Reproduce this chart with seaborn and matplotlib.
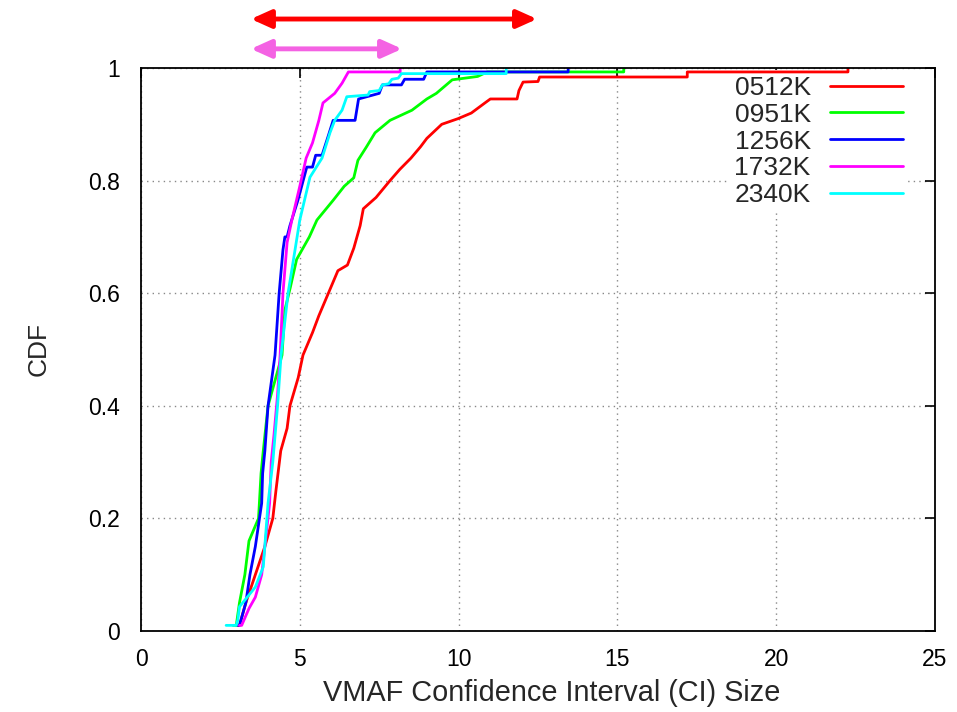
import matplotlib
matplotlib.use("Agg")
import matplotlib.pyplot as plt
import seaborn as sns
import pandas as pd

# ---- data (points along each CDF curve: x = CI size, y = cumulative fraction)
x_0512 = [3.0, 3.1, 3.3, 3.6, 3.9, 4.15, 4.25, 4.4, 4.6, 4.69, 4.95, 5.1, 5.4, 5.6, 5.9, 6.2,
          6.5, 6.7, 6.9, 7.0, 7.4, 7.84, 8.15, 8.5, 8.8, 9.0, 9.47, 9.98, 10.4, 10.83, 11.0,
          11.84, 11.9, 12.03, 12.5, 12.55, 17.2, 17.2, 22.26, 22.26]
y_0512 = [0.01, 0.01, 0.05, 0.10, 0.15, 0.20, 0.25, 0.32, 0.36, 0.40, 0.45, 0.49, 0.53, 0.56,
          0.60, 0.64, 0.65, 0.68, 0.72, 0.75, 0.77, 0.80, 0.82, 0.84, 0.86, 0.875, 0.90, 0.91,
          0.92, 0.938, 0.945, 0.945, 0.96, 0.975, 0.976, 0.984, 0.984, 0.993, 0.993, 1.0]

x_0951 = [2.9, 3.0, 3.1, 3.27, 3.4, 3.55, 3.7, 3.78, 3.85, 4.0, 4.44, 4.53, 4.7, 4.9, 5.1,
          5.3, 5.54, 6.05, 6.4, 6.7, 6.83, 7.1, 7.37, 7.84, 8.53, 9.0, 9.3, 9.8, 10.6, 10.9,
          15.2, 15.2]
y_0951 = [0.01, 0.01, 0.05, 0.10, 0.16, 0.18, 0.20, 0.28, 0.32, 0.40, 0.49, 0.57, 0.61, 0.66,
          0.68, 0.70, 0.73, 0.765, 0.79, 0.805, 0.836, 0.86, 0.885, 0.907, 0.925, 0.945, 0.955,
          0.979, 0.985, 0.993, 0.993, 1.0]

x_1256 = [3.05, 3.1, 3.3, 3.43, 3.6, 3.8, 3.83, 3.9, 4.0, 4.22, 4.35, 4.47, 4.53, 4.6, 4.69,
          4.94, 5.22, 5.4, 5.5, 5.7, 5.9, 6.05, 6.74, 6.85, 7.5, 7.6, 8.2, 8.3, 8.9, 9.0, 13.45,
          13.45]
y_1256 = [0.01, 0.01, 0.05, 0.10, 0.15, 0.227, 0.28, 0.32, 0.40, 0.49, 0.60, 0.677, 0.70, 0.70,
          0.72, 0.765, 0.824, 0.824, 0.845, 0.845, 0.88, 0.907, 0.907, 0.945, 0.955, 0.97, 0.97,
          0.98, 0.98, 0.993, 0.993, 1.0]

x_1732 = [3.1, 3.17, 3.4, 3.6, 3.8, 3.9, 4.05, 4.1, 4.19, 4.3, 4.38, 4.47, 4.6, 4.75, 5.0, 5.2,
          5.4, 5.6, 5.73, 6.1, 6.33, 6.53, 8.16, 8.16]
y_1732 = [0.01, 0.01, 0.04, 0.06, 0.10, 0.15, 0.227, 0.30, 0.35, 0.42, 0.49, 0.60, 0.69, 0.73,
          0.79, 0.84, 0.867, 0.907, 0.938, 0.955, 0.973, 0.993, 0.993, 1.0]

x_2340 = [2.68, 3.0, 3.05, 3.1, 3.6, 3.85, 4.0, 4.15, 4.3, 4.41, 4.63, 4.85, 5.0, 5.32, 5.7,
          5.95, 6.1, 6.33, 6.48, 7.15, 7.2, 7.5, 7.6, 7.8, 7.9, 8.1, 8.2, 11.5, 11.5]
y_2340 = [0.01, 0.01, 0.02, 0.043, 0.078, 0.114, 0.227, 0.30, 0.40, 0.49, 0.60, 0.677, 0.73,
          0.806, 0.84, 0.885, 0.907, 0.925, 0.949, 0.952, 0.958, 0.96, 0.97, 0.972, 0.98, 0.982,
          0.99, 0.99, 1.0]

series_names = ["0512K", "0951K", "1256K", "1732K", "2340K"]
series_x = [x_0512, x_0951, x_1256, x_1732, x_2340]
series_y = [y_0512, y_0951, y_1256, y_1732, y_2340]
colors = ["#ff0000", "#00ff00", "#0000ff", "#ff00ff", "#00ffff"]

x_ticks = [0, 5, 10, 15, 20, 25]
y_ticks = [0, 0.2, 0.4, 0.6, 0.8, 1.0]
y_tick_labels = ["0", "0.2", "0.4", "0.6", "0.8", "1"]

# range arrows above the plot (x extents in data units)
red_range = (3.46, 12.47)
pink_range = (3.46, 8.22)

rows = []
for name, xs, ys in zip(series_names, series_x, series_y):
    for i, (xv, yv) in enumerate(zip(xs, ys)):
        rows.append({"ci": xv, "cdf": yv, "series": name, "order": i})
df = pd.DataFrame(rows)

sns.set_theme(style="white")
plt.rcParams["font.family"] = ["Liberation Sans", "DejaVu Sans"]

fig = plt.figure(figsize=(9.57, 7.12), dpi=100)
ax = fig.add_axes([141 / 957, 1 - 631 / 712, (935 - 141) / 957, (631 - 68) / 712])

sns.lineplot(data=df, x="ci", y="cdf", hue="series", hue_order=series_names,
             palette=colors, estimator=None, sort=False, units="series",
             linewidth=2.0, ax=ax, legend=True)

ax.set_xlim(0, 25)
ax.set_ylim(0, 1)
ax.set_xticks(x_ticks)
ax.set_xticklabels([str(t) for t in x_ticks])
ax.set_yticks(y_ticks)
ax.set_yticklabels(y_tick_labels)
ax.tick_params(axis="both", which="both", direction="in", length=7, width=1.2,
               top=True, right=True, labelsize=16.5, colors="black")
ax.tick_params(axis="y", pad=15)
ax.tick_params(axis="x", pad=12)
ax.grid(True, linestyle=(0, (1, 3)), color="#888888", linewidth=1.0, zorder=0.5)
ax.set_axisbelow(True)
for s in ax.spines.values():
    s.set_color("black")
    s.set_linewidth(1.3)

ax.set_xlabel("VMAF Confidence Interval (CI) Size", fontsize=20.8, labelpad=8)
ax.xaxis.set_label_coords(0.517, -0.085)
ax.set_ylabel("CDF", fontsize=19, labelpad=27)

leg = ax.legend(loc="upper right", bbox_to_anchor=(0.983, 1.019), frameon=True,
                markerfirst=False, fontsize=19, handlelength=2.75, handletextpad=0.75,
                labelspacing=0.11, borderpad=0.2, title=None)
leg.get_frame().set_facecolor("white")
leg.get_frame().set_edgecolor("none")
leg.get_frame().set_alpha(1.0)
leg.set_zorder(1.5)
for t in leg.get_texts():
    t.set_ha("right")
for h in leg.get_lines():
    h.set_linewidth(2.0)

ax.annotate("", xy=(red_range[1], 1.087), xytext=(red_range[0], 1.087),
            xycoords=("data", "axes fraction"), textcoords=("data", "axes fraction"),
            arrowprops=dict(arrowstyle="<|-|>,head_length=1.0,head_width=0.45",
                            color="#ff0000", lw=3.5, shrinkA=0, shrinkB=0),
            annotation_clip=False)
ax.annotate("", xy=(pink_range[1], 1.034), xytext=(pink_range[0], 1.034),
            xycoords=("data", "axes fraction"), textcoords=("data", "axes fraction"),
            arrowprops=dict(arrowstyle="<|-|>,head_length=1.0,head_width=0.45",
                            color="#f462e3", lw=3.5, shrinkA=0, shrinkB=0),
            annotation_clip=False)

fig.savefig("out.png", dpi=100)
